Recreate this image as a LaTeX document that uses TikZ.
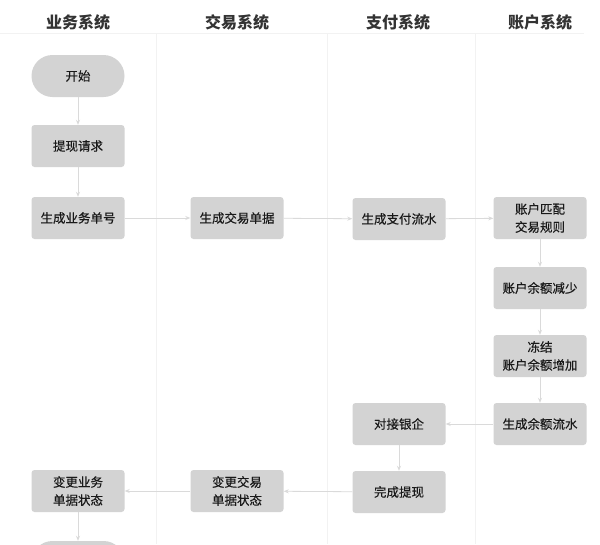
\documentclass[tikz,border=0pt]{standalone}
\usepackage{fontspec}
\setmainfont{Noto Sans CJK SC}
\newfontfamily\boxfont{Noto Sans CJK SC}[FakeBold=0.35]
\usetikzlibrary{arrows.meta}
\definecolor{boxfill}{HTML}{D3D3D3}
\definecolor{linec}{HTML}{DADADA}
\definecolor{lanec}{HTML}{F2F2F2}
\definecolor{headc}{HTML}{333333}
\begin{document}
\begin{tikzpicture}[x=1pt,y=-1pt,
  stepbox/.style={fill=boxfill, rounded corners=3pt, minimum width=93pt, minimum height=42pt,
     inner sep=0pt, align=center, font=\boxfont\fontsize{12.5}{18}\selectfont, text=black!90},
  pill/.style={stepbox, rounded corners=21pt},
  head/.style={font=\fontsize{16}{18}\selectfont\bfseries, text=headc},
  conn/.style={draw=linec, line width=0.8pt, -{Stealth[length=5pt,width=4pt]}},
  lane/.style={draw=lanec, line width=1pt}]
\useasboundingbox (0,0) rectangle (600,544);
\fill[white] (0,0) rectangle (600,544);
% headers
\node[head] (h1) at (78,22) {业务系统};
\node[head] (h2) at (237,22) {交易系统};
\node[head] (h3) at (398,22) {支付系统};
\node[head] (h4) at (540,22) {账户系统};
\draw[lane] (0,33) -- (584,33);
\draw[lane] (156,33) -- (156,544);
\draw[lane] (327,33) -- (327,544);
\draw[lane] (475,33) -- (475,544);
% nodes
\node[pill] (start) at (78,76) {开始};
\node[stepbox] (req) at (78,146) {提现请求};
\node[stepbox] (bizno) at (78,218) {生成业务单号};
\node[stepbox] (trade) at (237,218) {生成交易单据};
\node[stepbox] (pay) at (399,219) {生成支付流水};
\node[stepbox] (match) at (540,218) {账户匹配\\交易规则};
\node[stepbox] (dec) at (540,288) {账户余额减少};
\node[stepbox] (frz) at (540,356) {冻结\\账户余额增加};
\node[stepbox] (flow) at (540,424) {生成余额流水};
\node[stepbox] (bank) at (399,424) {对接银企};
\node[stepbox] (done) at (399,492) {完成提现};
\node[stepbox] (chtrade) at (237,491) {变更交易\\单据状态};
\node[stepbox] (chbiz) at (78,491) {变更业务\\单据状态};
\node[pill] (endn) at (78,562) {};
% connectors
\draw[conn] (start) -- (req);
\draw[conn] (req) -- (bizno);
\draw[conn] (bizno) -- (trade);
\draw[conn] (trade) -- (pay);
\draw[conn] (pay) -- (match);
\draw[conn] (match) -- (dec);
\draw[conn] (dec) -- (frz);
\draw[conn] (frz) -- (flow);
\draw[conn] (flow) -- (bank);
\draw[conn] (bank) -- (done);
\draw[conn] (done) -- (chtrade);
\draw[conn] (chtrade) -- (chbiz);
\draw[conn] (chbiz) -- (endn);
\end{tikzpicture}
\end{document}
